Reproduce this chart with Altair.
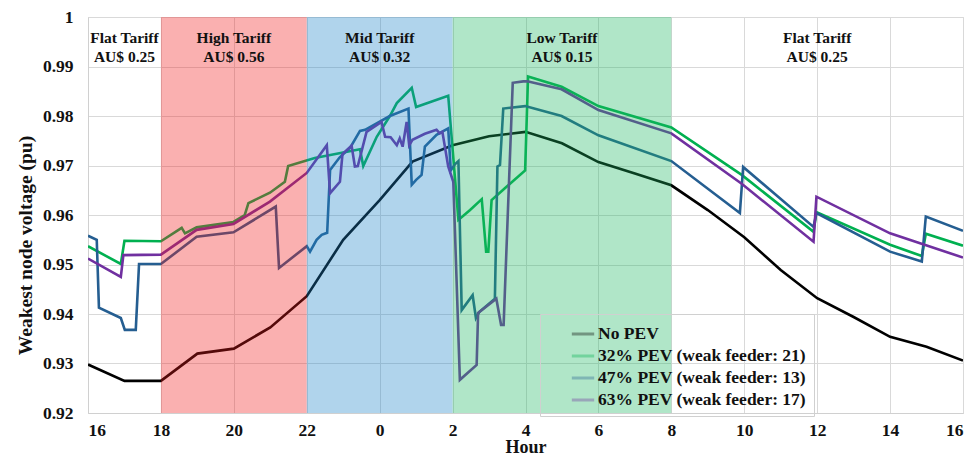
import altair as alt
import pandas as pd

# ---------------- data (hours counted from 16:00) ----------------
SERIES = ["No PEV", "32% PEV (weak feeder: 21)", "47% PEV (weak feeder: 13)", "63% PEV (weak feeder: 17)"]
COLORS = ["#000000", "#00B050", "#255E91", "#7030A0"]

T_NO_PEV = [0, 1, 2, 3, 4, 5, 6, 7, 8, 8.9, 10, 11, 12, 13, 14, 15, 16, 17, 18, 19, 20, 21, 22, 23, 24]
V_NO_PEV = [0.9298, 0.9265, 0.9265, 0.932, 0.933, 0.9373, 0.9436, 0.955, 0.963, 0.9708, 0.9741, 0.9759,
            0.9768, 0.9745, 0.9707, 0.9684, 0.966, 0.961, 0.9555, 0.9489, 0.9432, 0.9394, 0.9354, 0.9334, 0.9306]

T_32 = [0, 0.9, 1.0, 2.0, 2.57, 2.66, 2.98, 3.99, 4.3, 4.4, 4.99, 5.4, 5.49, 6.22, 7.46, 7.55, 7.92, 8.28,
        8.47, 8.88, 9.0, 9.88, 10.16, 10.48, 10.8, 10.92, 10.98, 11.07, 11.48, 11.99, 12.07, 12.99, 14.0,
        16.0, 17.93, 19.9, 19.98, 22.0, 22.87, 22.98, 24]
V_32 = [0.9537, 0.9501, 0.9548, 0.9547, 0.9574, 0.9563, 0.9575, 0.9586, 0.96, 0.9624, 0.9645, 0.9667, 0.9699,
        0.9715, 0.9733, 0.9699, 0.9758, 0.98, 0.9826, 0.9857, 0.9818, 0.9841, 0.959, 0.961, 0.9632, 0.9526,
        0.9526, 0.963, 0.9657, 0.969, 0.988, 0.9859, 0.982, 0.9777, 0.9681, 0.9566, 0.9606, 0.954, 0.9517,
        0.9562, 0.9538]

T_47 = [0, 0.24, 0.3, 0.9, 1.01, 1.31, 1.4, 2.0, 2.98, 3.99, 5.15, 5.24, 6.0, 6.09, 6.27, 6.41, 6.56, 6.64,
        6.9, 7.2, 7.46, 7.6, 8.28, 8.79, 8.88, 9.0, 9.15, 9.24, 9.56, 9.88, 9.95, 10.07, 10.16, 10.25, 10.55,
        10.64, 10.73, 11.16, 11.23, 11.3, 11.39, 11.99, 12.99, 14.0, 16.0, 17.88, 17.97, 19.9, 19.98, 22.0,
        22.87, 22.98, 24]
V_47 = [0.9558, 0.955, 0.9413, 0.9392, 0.9368, 0.9368, 0.9501, 0.9501, 0.9556, 0.9565, 0.9617, 0.9493, 0.9537,
        0.9526, 0.955, 0.956, 0.9564, 0.9691, 0.9716, 0.9737, 0.977, 0.9772, 0.98, 0.9815, 0.9661, 0.9671,
        0.9681, 0.9738, 0.9762, 0.9775, 0.969, 0.9703, 0.9709, 0.9408, 0.9438, 0.9392, 0.9404, 0.9431, 0.9698,
        0.9701, 0.9815, 0.982, 0.98, 0.9761, 0.9709, 0.9604, 0.9697, 0.9576, 0.9604, 0.9526, 0.9506, 0.9597,
        0.9568]

T_63 = [0, 0.9, 0.97, 2.0, 2.98, 3.99, 4.99, 6.0, 6.55, 6.64, 6.91, 6.98, 7.23, 7.32, 7.4, 7.64, 8.05, 8.15,
        8.3, 8.47, 8.55, 8.63, 8.74, 8.81, 8.9, 9.24, 9.56, 9.65, 9.72, 9.88, 10.02, 10.2, 10.66, 10.7, 11.2,
        11.33, 11.4, 11.65, 11.94, 12.05, 12.99, 14.0, 16.0, 17.93, 19.9, 19.98, 22.0, 24]
V_63 = [0.9512, 0.9475, 0.9519, 0.952, 0.957, 0.9582, 0.9627, 0.9685, 0.9741, 0.9644, 0.9667, 0.9723, 0.974,
        0.9698, 0.9699, 0.9768, 0.9788, 0.9758, 0.9757, 0.9741, 0.9755, 0.9738, 0.9788, 0.9741, 0.9752, 0.9764,
        0.9772, 0.9765, 0.9768, 0.9698, 0.9667, 0.9267, 0.9297, 0.9402, 0.9431, 0.9378, 0.9378, 0.9867, 0.987,
        0.987, 0.9854, 0.9812, 0.9765, 0.9663, 0.9546, 0.9637, 0.9563, 0.9514]

BAND_START = [2, 6, 10]
BAND_END = [6, 10, 16]
BAND_COLOR = ["#F11D1D", "#1D84C9", "#1DB862"]

LABEL_T = [1, 4, 8, 13, 20]
LABEL_LINE1 = ["Flat Tariff", "High Tariff", "Mid Tariff", "Low Tariff", "Flat Tariff"]
LABEL_LINE2 = ["AU$ 0.25", "AU$ 0.56", "AU$ 0.32", "AU$ 0.15", "AU$ 0.25"]

X_TICKS = list(range(0, 25, 2))
Y_TICKS = [0.92, 0.93, 0.94, 0.95, 0.96, 0.97, 0.98, 0.99, 1.0]

# ---------------- tables ----------------
rows = []
for name, ts, vs in zip(SERIES, [T_NO_PEV, T_32, T_47, T_63], [V_NO_PEV, V_32, V_47, V_63]):
    for i, (t, v) in enumerate(zip(ts, vs)):
        rows.append({"series": name, "t": t, "v": v, "i": i})
lines_df = pd.DataFrame(rows)
bands_df = pd.DataFrame({"x0": BAND_START, "x1": BAND_END, "c": BAND_COLOR})
labels_df = pd.DataFrame({"t": LABEL_T, "l1": LABEL_LINE1, "l2": LABEL_LINE2})

FONT = "Liberation Serif"
INK = "#111111"

x_scale = alt.Scale(domain=[0, 24], nice=False)
y_scale = alt.Scale(domain=[0.92, 1.0], nice=False)

lines = alt.Chart(lines_df).mark_line(strokeWidth=2.6, clip=True).encode(
    x=alt.X("t:Q", scale=x_scale,
            axis=alt.Axis(values=X_TICKS, labelExpr="(datum.value + 16) % 24", title="Hour",
                          grid=True, ticks=False, labelPadding=8,
                          labelFont=FONT, labelFontWeight="bold", labelFontSize=17.5, labelColor=INK,
                          titleFont=FONT, titleFontWeight="bold", titleFontSize=18, titleColor=INK,
                          titleBaseline="alphabetic", titleY=39)),
    y=alt.Y("v:Q", scale=y_scale,
            axis=alt.Axis(values=Y_TICKS,
                          labelExpr="datum.value >= 0.9999 ? '1' : format(datum.value, '.2f')",
                          title="Weakest node voltage (pu)", grid=True, ticks=False, labelPadding=15,
                          labelFont=FONT, labelFontWeight="bold", labelFontSize=17.5, labelColor=INK,
                          titleFont=FONT, titleFontWeight="bold", titleFontSize=19.5, titleColor=INK,
                          titleX=-63, titleY=228, titleAngle=-90, titleAlign="center",
                          titleBaseline="middle")),
    color=alt.Color("series:N", scale=alt.Scale(domain=SERIES, range=COLORS),
                    sort=SERIES,
                    legend=alt.Legend(orient="none", legendX=452, legendY=297, title=None,
                                      symbolType="stroke", symbolSize=500, symbolStrokeWidth=3,
                                      symbolOpacity=1, labelLimit=0, symbolOffset=23,
                                      labelFont=FONT, labelFontWeight="bold", labelFontSize=17.5,
                                      labelColor=INK, rowPadding=0, padding=7,
                                      strokeColor="#d0d0d0", labelOffset=2)),
    order=alt.Order("i:Q"),
    detail="series:N",
)

bands = alt.Chart(bands_df).mark_rect(opacity=0.35).encode(
    x=alt.X("x0:Q", scale=x_scale),
    x2="x1:Q",
    y=alt.value(0),
    y2=alt.value(396),
    color=alt.Color("c:N", scale=None),
)

text1 = alt.Chart(labels_df).mark_text(font=FONT, fontWeight="bold", fontSize=15.5, baseline="middle",
                                       color=INK).encode(
    x=alt.X("t:Q", scale=x_scale), y=alt.value(21), text="l1:N")
text2 = alt.Chart(labels_df).mark_text(font=FONT, fontWeight="bold", fontSize=15.5, baseline="middle",
                                       color=INK).encode(
    x=alt.X("t:Q", scale=x_scale), y=alt.value(40), text="l2:N")

chart = alt.layer(lines, bands, text1, text2).properties(
    width=875, height=396,
    background="white",
    padding={"left": 80, "top": 9, "right": 5, "bottom": 43},
    autosize=alt.AutoSizeParams(type="none"),
).configure_axis(
    gridColor="#d9d9d9", domainColor="#d0d0d0",
).configure_view(stroke="#d9d9d9")

chart.save("out.html", embed_options={"renderer": "svg", "actions": False})
